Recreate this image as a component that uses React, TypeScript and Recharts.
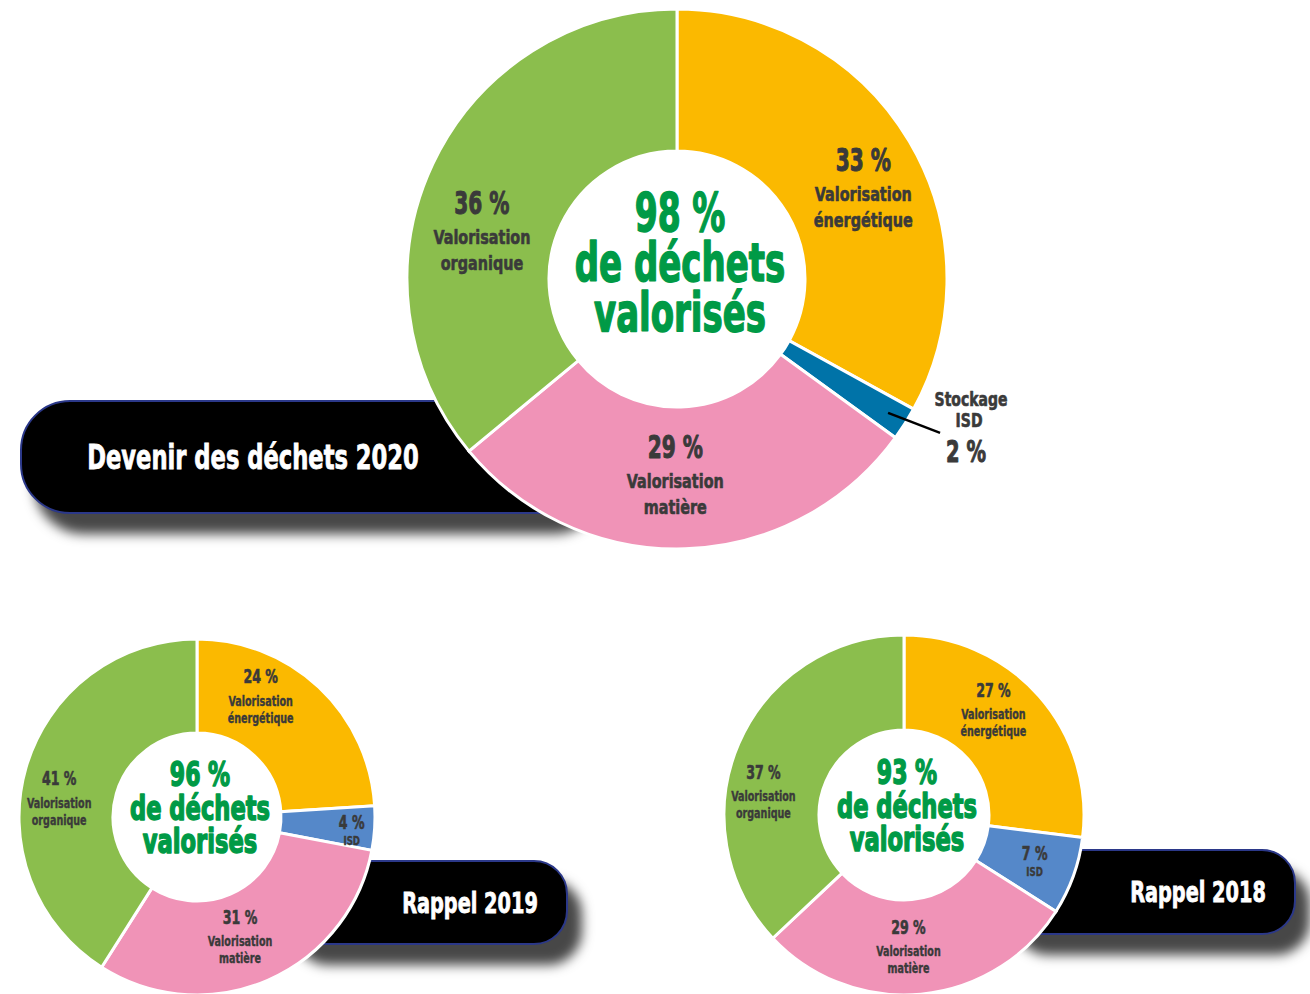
import React from "react";
import { PieChart, Pie, Cell } from "recharts";

const categories = ["energetique", "isd", "matiere", "organique"];
const shares2020 = [33, 2, 29, 36];
const shares2019 = [24, 4, 31, 41];
const shares2018 = [27, 7, 29, 37];
const totalValorises = [98, 96, 93];
const titles = ["Devenir des déchets 2020", "Rappel 2019", "Rappel 2018"];
const sliceLines = [
  ["Valorisation", "énergétique"],
  ["ISD"],
  ["Valorisation", "matière"],
  ["Valorisation", "organique"],
];
const stockageLines = ["Stockage", "ISD"];
const centerLines = ["de déchets", "valorisés"];

const FONT = "'DejaVu Sans Condensed', 'DejaVu Sans', sans-serif";
const LABEL = "#3a3a3a";
const GREEN_TXT = "#009a46";
const COLORS_MAIN = ["#fbb900", "#0073a8", "#f093b7", "#8bbe4d"];
const COLORS_SMALL = ["#fbb900", "#5588c9", "#f093b7", "#8bbe4d"];

const toData = (shares: number[]) =>
  categories.map((c, i) => ({ name: c, value: shares[i] }));

// mise en page
const charts = [
  { cx: 677, cy: 279, inner: 128, outer: 270, big: true, colors: COLORS_MAIN,
    nudge: [[15, 13], [0, 0], [-8, 0], [-15, 40]] },
  { cx: 197, cy: 817, inner: 84, outer: 178, big: false, colors: COLORS_SMALL,
    nudge: [[-26, -23], [24, 2], [-9, 2], [-12, 20]] },
  { cx: 904, cy: 815, inner: 85, outer: 180, big: false, colors: COLORS_SMALL,
    nudge: [[-10, -15], [6, -2], [-8, 2], [-19, 32]] },
];
const allData = [toData(shares2020), toData(shares2019), toData(shares2018)];

const boxes = [
  { left: 20, top: 400, width: 570, height: 114, radius: 50, textX: 231, size: 34 },
  { left: 280, top: 860, width: 288, height: 85, radius: 34, textX: 188, size: 29 },
  { left: 1000, top: 849, width: 296, height: 86, radius: 34, textX: 196, size: 29 },
];

const RAD = Math.PI / 180;

function CondText({ x, y, size, sx, fill, bold = 0.6, children }: any) {
  return (
    <text
      transform={`translate(${x},${y}) scale(${sx},1)`}
      textAnchor="middle"
      dominantBaseline="central"
      fontSize={size}
      fontWeight={700}
      fontFamily={FONT}
      fill={fill}
      stroke={fill}
      strokeWidth={bold}
      strokeLinejoin="round"
    >
      {children}
    </text>
  );
}

function makeLabel(ci: number) {
  const c = charts[ci];
  return (props: any) => {
    const { cx, cy, midAngle, innerRadius, outerRadius, index, value } = props;
    const cos = Math.cos(-midAngle * RAD);
    const sin = Math.sin(-midAngle * RAD);
    if (c.big && index === 1) {
      const r0 = outerRadius - 20;
      const sx0 = cx + r0 * cos;
      const sy0 = cy + r0 * sin;
      const ex = sx0 + 52;
      const ey = sy0 + 20;
      return (
        <g>
          <line x1={sx0} y1={sy0} x2={ex} y2={ey} stroke="#000" strokeWidth={2.5} />
          <CondText x={ex + 31} y={ey - 34} size={19} sx={0.82} fill={LABEL}>{stockageLines[0]}</CondText>
          <CondText x={ex + 29} y={ey - 13} size={19} sx={0.82} fill={LABEL}>{stockageLines[1]}</CondText>
          <CondText x={ex + 26} y={ey + 18} size={31} sx={0.7} fill={LABEL} bold={1}>{`${value} %`}</CondText>
        </g>
      );
    }
    const r = (innerRadius + outerRadius) / 2;
    const x = cx + r * cos + c.nudge[index][0];
    const y = cy + r * sin + c.nudge[index][1];
    const lines = sliceLines[index];
    if (lines.length === 1) {
      return (
        <g>
          <CondText x={x} y={y - 5} size={20} sx={0.7} fill={LABEL}>{`${value} %`}</CondText>
          <CondText x={x} y={y + 14} size={12} sx={0.8} fill={LABEL} bold={0.4}>{lines[0]}</CondText>
        </g>
      );
    }
    if (c.big) {
      return (
        <g>
          <CondText x={x} y={y - 31} size={32} sx={0.7} fill={LABEL} bold={1}>{`${value} %`}</CondText>
          <CondText x={x} y={y + 3} size={20} sx={0.8} fill={LABEL}>{lines[0]}</CondText>
          <CondText x={x} y={y + 29} size={20} sx={0.8} fill={LABEL}>{lines[1]}</CondText>
        </g>
      );
    }
    return (
      <g>
        <CondText x={x} y={y - 22} size={20} sx={0.7} fill={LABEL}>{`${value} %`}</CondText>
        <CondText x={x} y={y + 2} size={14} sx={0.76} fill={LABEL} bold={0.4}>{lines[0]}</CondText>
        <CondText x={x} y={y + 19} size={14} sx={0.76} fill={LABEL} bold={0.4}>{lines[1]}</CondText>
      </g>
    );
  };
}

export default function App() {
  return (
    <div
      style={{
        position: "absolute",
        left: 0,
        top: 0,
        width: 1310,
        height: 994,
        background: "#fff",
        overflow: "hidden",
      }}
    >
      {/* bandeaux noirs derrière les camemberts */}
      {boxes.map((b, i) => (
        <div
          key={i}
          style={{
            position: "absolute",
            left: b.left,
            top: b.top,
            width: b.width,
            height: b.height,
            boxSizing: "border-box",
            background: "#000",
            border: "2px solid #2b3889",
            borderRadius: b.radius,
            boxShadow: "14px 20px 12px rgba(0,0,0,0.72)",
          }}
        >
          <div
            style={{
              position: "absolute",
              left: b.textX,
              top: 0,
              height: "100%",
              display: "flex",
              alignItems: "center",
              transform: "translateX(-50%) scaleX(0.74)",
              color: "#fff",
              fontFamily: FONT,
              fontWeight: 700,
              fontSize: b.size,
              whiteSpace: "nowrap",
              WebkitTextStroke: "0.8px #fff",
            }}
          >
            {titles[i]}
          </div>
        </div>
      ))}

      <div style={{ position: "absolute", left: 0, top: 0 }}>
        <PieChart width={1310} height={994} margin={{ top: 0, right: 0, bottom: 0, left: 0 }}>
          {charts.map((c, ci) => (
            <Pie
              key={ci}
              data={allData[ci]}
              dataKey="value"
              nameKey="name"
              cx={c.cx}
              cy={c.cy}
              innerRadius={c.inner}
              outerRadius={c.outer}
              startAngle={90}
              endAngle={-270}
              stroke="#fff"
              strokeWidth={3}
              labelLine={false}
              label={makeLabel(ci)}
              isAnimationActive={false}
            >
              {allData[ci].map((d, i) => (
                <Cell key={d.name} fill={c.colors[i]} />
              ))}
            </Pie>
          ))}
          {charts.map((c, ci) => {
            const size = c.big ? 54 : 34;
            const gap = c.big ? 50 : 33;
            const y0 = c.cy - (c.big ? 67 : 42);
            const sx = c.big ? 0.7 : 0.74;
            return (
              <g key={`center-${ci}`}>
                <CondText x={c.cx + 3} y={y0} size={size} sx={sx - 0.02} fill={GREEN_TXT} bold={1.5}>
                  {`${totalValorises[ci]} %`}
                </CondText>
                <CondText x={c.cx + 3} y={y0 + gap} size={size} sx={sx} fill={GREEN_TXT} bold={1.5}>
                  {centerLines[0]}
                </CondText>
                <CondText x={c.cx + 3} y={y0 + 2 * gap} size={size} sx={sx} fill={GREEN_TXT} bold={1.5}>
                  {centerLines[1]}
                </CondText>
              </g>
            );
          })}
        </PieChart>
      </div>
    </div>
  );
}
